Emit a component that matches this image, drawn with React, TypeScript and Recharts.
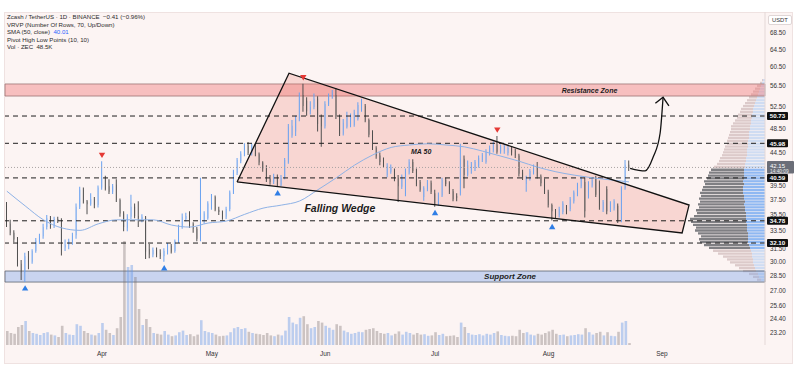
import {
  Area,
  Bar,
  Cell,
  ComposedChart,
  Line,
  ReferenceArea,
  ReferenceDot,
  ReferenceLine,
  Scatter,
  XAxis,
  YAxis,
} from "recharts";

const W = 800;
const H = 381;
const FONT = "'Liberation Sans', Arial, sans-serif";
const PANE = "#fcf4f3";
const UP = "#6aa2f0";
const DOWN = "#4f4f4f";

// day 0 = 1 Mar; first candle = 6 Mar
const FIRST_DAY = 5;
const X_DOMAIN = [4.5, 212.15];
const Y_DOMAIN = [22.23, 73.8];

const opens = [
  36.6, 34.4, 33.3, 32.5, 29.8, 28.9, 30.6, 30.0, 31.2, 32.4, 32.9, 34.0, 35.1, 34.1, 35.0, 34.8, 31.6, 31.9, 32.3, 33.0,
  36.6, 38.9, 37.3, 36.9, 37.6, 36.8, 39.2, 40.6, 39.4, 38.6, 39.6, 37.5, 35.7, 33.9, 35.3, 36.6, 35.4, 35.0, 35.2, 31.4,
  30.8, 31.3, 31.0, 30.6, 31.1, 31.8, 31.2, 32.3, 34.0, 35.0, 35.6, 34.4, 33.8, 32.6, 34.8, 35.1, 36.5, 37.9, 36.2, 35.9,
  35.3, 36.3, 38.5, 41.3, 43.1, 44.2, 45.6, 44.4, 45.6, 44.2, 42.9, 42.2, 40.5, 40.0, 40.8, 39.6, 40.6, 43.0, 47.3, 48.0,
  50.2, 54.7, 53.6, 51.6, 52.4, 54.0, 50.5, 48.9, 53.0, 54.3, 54.7, 50.7, 47.6, 48.8, 49.0, 49.1, 50.2, 51.8, 52.6, 50.0,
  47.9, 45.2, 44.0, 43.3, 41.0, 41.5, 41.6, 40.6, 39.3, 38.3, 41.4, 43.0, 41.8, 40.0, 37.9, 39.0, 39.9, 38.4, 36.9, 38.1,
  40.3, 39.8, 38.7, 38.0, 38.4, 43.5, 41.0, 41.8, 42.0, 42.4, 43.3, 43.0, 44.3, 44.8, 45.8, 44.6, 44.8, 44.4, 45.2, 44.8,
  44.0, 41.4, 39.7, 40.5, 41.4, 42.3, 40.8, 40.0, 38.6, 36.8, 36.0, 35.5, 35.9, 36.6, 36.3, 37.3, 38.3, 39.4, 40.0, 38.0,
  39.5, 40.6, 39.9, 36.2, 39.0, 36.2, 36.4, 36.7, 34.9, 39.1, 42.56,
];
const highs = [
  37.2, 34.9, 33.6, 32.8, 30.2, 31.0, 31.2, 31.4, 32.7, 33.2, 34.4, 35.5, 35.4, 35.3, 35.3, 35.1, 32.5, 32.6, 33.3, 37.0,
  39.3, 39.2, 37.5, 38.4, 37.9, 39.5, 43.1, 40.9, 40.4, 39.7, 40.4, 37.7, 36.0, 35.6, 38.2, 37.0, 37.3, 35.6, 35.4, 32.0,
  31.6, 31.6, 31.4, 31.5, 32.1, 32.0, 32.5, 34.3, 35.7, 35.8, 36.0, 34.6, 34.0, 40.6, 36.0, 37.3, 38.3, 38.1, 36.6, 36.1,
  36.6, 38.8, 41.8, 43.6, 44.7, 46.0, 46.2, 45.9, 45.9, 44.5, 43.1, 42.5, 41.0, 41.2, 41.1, 41.0, 43.6, 49.3, 50.0, 50.8,
  55.2, 57.0, 54.3, 53.5, 55.0, 54.5, 51.0, 53.5, 55.0, 55.7, 56.1, 51.0, 50.2, 51.5, 51.2, 51.9, 53.3, 54.0, 53.0, 50.3,
  48.2, 45.5, 44.5, 43.7, 42.8, 42.6, 42.0, 41.0, 41.1, 42.0, 43.4, 43.4, 42.0, 40.3, 39.4, 40.3, 40.2, 38.9, 38.5, 40.6,
  40.6, 40.1, 39.0, 38.4, 45.9, 44.0, 43.2, 43.0, 43.3, 44.0, 44.4, 45.0, 45.6, 46.3, 47.2, 45.8, 45.9, 45.6, 45.5, 45.1,
  44.3, 41.8, 40.9, 41.9, 42.6, 43.0, 41.1, 40.5, 38.9, 37.0, 36.3, 36.6, 37.3, 36.8, 37.9, 38.8, 39.9, 40.8, 40.7, 40.1,
  40.6, 40.9, 40.2, 37.5, 39.4, 37.3, 37.6, 37.0, 39.4, 43.3, 43.2,
];
const lows = [
  34.0, 33.0, 32.2, 29.5, 28.1, 27.9, 29.2, 29.8, 31.0, 32.0, 32.6, 33.7, 33.8, 33.9, 34.5, 30.7, 31.2, 31.4, 31.9, 32.6,
  36.3, 37.0, 35.6, 36.7, 36.4, 36.5, 38.9, 38.8, 38.3, 38.3, 37.2, 35.3, 33.5, 33.5, 35.0, 35.1, 34.0, 34.6, 30.3, 30.4,
  30.5, 30.5, 30.3, 30.0, 30.8, 30.9, 31.0, 32.1, 33.8, 34.7, 33.9, 33.3, 32.3, 32.3, 34.4, 34.9, 36.2, 36.0, 35.5, 34.9,
  35.0, 36.0, 38.3, 41.0, 42.8, 43.9, 44.1, 44.0, 43.9, 42.5, 41.5, 40.0, 39.6, 39.7, 39.3, 39.4, 40.4, 42.7, 46.9, 47.2,
  49.8, 51.5, 50.8, 51.0, 52.0, 48.0, 45.4, 48.5, 52.6, 54.0, 50.2, 47.2, 47.3, 48.5, 48.7, 48.8, 49.9, 51.5, 49.6, 47.0,
  44.9, 43.5, 42.5, 42.1, 40.7, 41.2, 40.1, 37.2, 39.0, 38.0, 41.1, 41.3, 39.4, 38.6, 37.4, 38.7, 38.3, 36.6, 36.7, 37.9,
  39.4, 38.3, 37.3, 37.3, 38.1, 39.1, 40.8, 41.2, 41.6, 42.1, 43.0, 42.7, 44.0, 44.5, 44.3, 44.3, 44.3, 44.0, 44.0, 43.6,
  40.8, 40.3, 38.6, 40.2, 41.1, 40.5, 39.4, 38.3, 36.5, 34.8, 35.0, 35.2, 35.6, 35.6, 36.0, 37.0, 38.0, 39.1, 35.2, 37.7,
  39.2, 37.9, 36.2, 35.9, 35.6, 35.9, 36.1, 34.5, 34.6, 38.9, 41.6,
];
const closes = [
  34.4, 33.3, 32.5, 29.8, 28.9, 30.6, 30.0, 31.2, 32.4, 32.9, 34.0, 35.1, 34.1, 35.0, 34.8, 31.6, 31.9, 32.3, 33.0, 36.6,
  38.9, 37.3, 36.9, 37.6, 36.8, 39.2, 40.6, 39.0, 38.6, 39.4, 37.5, 35.7, 34.0, 35.3, 36.6, 35.4, 35.1, 35.3, 31.1, 30.8,
  31.3, 30.8, 30.6, 31.2, 31.8, 31.1, 32.3, 34.0, 35.3, 35.4, 34.2, 33.8, 32.6, 35.1, 35.7, 37.0, 37.9, 36.2, 35.9, 35.2,
  36.3, 38.5, 41.5, 43.3, 44.3, 45.6, 44.4, 45.6, 44.2, 42.9, 42.0, 40.3, 40.0, 40.8, 39.6, 40.6, 43.3, 48.8, 49.0, 50.2,
  54.7, 52.6, 51.6, 52.4, 54.0, 49.3, 48.9, 53.0, 54.5, 55.2, 50.7, 47.6, 49.5, 50.7, 50.5, 51.4, 52.8, 53.4, 49.9, 47.4,
  45.2, 43.9, 43.0, 42.5, 42.4, 42.2, 40.4, 39.4, 40.8, 41.6, 43.0, 41.6, 39.7, 38.9, 39.1, 39.9, 38.6, 36.8, 38.2, 40.3,
  39.7, 38.6, 37.6, 37.8, 43.5, 41.0, 42.5, 42.6, 43.0, 43.6, 44.1, 44.6, 45.2, 45.9, 44.6, 45.4, 45.5, 45.2, 44.5, 44.0,
  41.2, 40.6, 40.6, 41.6, 42.3, 40.8, 39.8, 38.6, 36.8, 36.0, 35.5, 36.3, 37.0, 36.1, 37.6, 38.5, 39.6, 40.5, 36.0, 39.8,
  40.3, 38.2, 36.6, 37.2, 36.0, 37.0, 37.3, 34.7, 39.1, 42.56, 42.15,
];
// volume in thousands ZEC
const volumes = [
  350, 300, 280, 450, 500, 600, 350, 300, 280, 250, 300, 320, 260, 240, 200, 480, 300, 260, 250, 520,
  480, 350, 300, 260, 240, 300, 550, 380, 300, 250, 420, 700, 2600, 1950, 2000, 1700, 900, 500, 650, 450,
  300, 280, 260, 350, 260, 220, 240, 320, 360, 250, 270, 220, 260, 620, 350, 320, 300, 260, 220, 230,
  240, 320, 420, 450, 400, 420, 330, 300, 280, 270, 250, 300, 240, 220, 260, 240, 360, 700, 560, 520,
  680, 720, 520, 420, 450, 600, 560, 480, 430, 380, 520, 480, 360, 320, 280, 300, 330, 320, 380, 400,
  420, 350, 300, 280, 300, 240, 280, 340, 260, 330, 300, 260, 300, 260, 270, 230, 240, 320, 250, 280,
  220, 230, 240, 200, 560, 450, 300, 260, 250, 270, 240, 280, 260, 300, 340, 250, 230, 220, 230, 220,
  380, 300, 320, 260, 240, 280, 260, 300, 340, 380, 280, 250, 260, 220, 240, 250, 270, 260, 420, 320,
  260, 300, 330, 240, 320, 230, 220, 330, 560, 600, 48.5,
];
const VOL_MAX = 8325;

const monthTicks = [31, 61, 92, 122, 153, 184];
const monthNames = ["Apr", "May", "Jun", "Jul", "Aug", "Sep"];
const priceTicks = [23.2, 24.4, 25.6, 27, 28.5, 30, 31.5, 33.5, 35.5, 37.5, 39.5, 44.5, 48.5, 52.5, 56.5, 60.5, 64.5, 68.5];

const keyLevels = [50.73, 45.98, 40.59, 34.78, 32.1];
const lastPrice = 42.15;
const countdown = "14:40:09";
const resistanceZone = [54.52, 56.94];
const supportZone = [27.89, 29.02];

// SMA 50
const maDays = [5, 10, 15, 20, 25, 30, 35, 40, 45, 50, 55, 60, 65, 70, 75, 80, 85, 90, 95, 100, 105, 110, 115, 120, 125, 130, 135, 140, 145, 150, 155, 160, 165, 170, 175];
const maValues = [38.7, 36.7, 34.9, 33.9, 33.6, 34.4, 34.9, 34.9, 34.9, 34.25, 34.0, 34.5, 34.75, 35.6, 36.4, 36.8, 37.35, 38.9, 40.6, 42.5, 44.1, 45.3, 45.7, 45.9, 45.7, 45.4, 44.7, 43.9, 43.1, 42.2, 41.5, 41.0, 40.6, 40.3, 40.01];

const pivotLowDays = [10, 48, 79, 122, 154];
const pivotHighDays = [31, 86, 139];

// falling wedge corners (day, price)
const wedgeDays = [67.9, 82.1, 191.4, 189.5, 67.9];
const wedgePrices = [40.0, 59.2, 36.81, 33.28, 40.0];
// wedge fill: lower / upper edge at each corner
const wedgeFillDays = [67.9, 82.1, 189.5, 191.4];
const wedgeFillLow = [40.0, 39.15, 33.28, 36.81];
const wedgeFillHigh = [40.0, 59.2, 37.12, 36.81];

const arrowDays = [175.3, 179.4, 181.6, 183.5, 184.3];
const arrowPrices = [42.02, 41.62, 43.76, 47.72, 54.27];
const arrowHeadDays = [182.2, 184.3, 185.9];
const arrowHeadPrices = [53.1, 54.27, 52.64];

// visible range volume profile, 70 rows
const profilePrices = [
  28.1, 28.39, 28.69, 28.99, 29.3, 29.6, 29.91, 30.23, 30.54, 30.86, 31.19, 31.51, 31.84, 32.18, 32.51, 32.85, 33.2, 33.55,
  33.9, 34.25, 34.61, 34.98, 35.34, 35.71, 36.09, 36.47, 36.85, 37.24, 37.63, 38.02, 38.42, 38.82, 39.23, 39.64, 40.06,
  40.48, 40.9, 41.33, 41.76, 42.2, 42.64, 43.09, 43.54, 44.0, 44.46, 44.92, 45.4, 45.87, 46.35, 46.84, 47.33, 47.83, 48.33,
  48.84, 49.35, 49.87, 50.39, 50.92, 51.45, 51.99, 52.54, 53.09, 53.64, 54.21, 54.77, 55.35, 55.93, 56.51, 57.11, 57.7,
];
const profileUp = [
  4, 6, 7, 9, 10, 11, 12, 12, 13, 13, 14, 15, 16, 17, 17, 17, 17, 18, 18, 18, 19, 19, 19, 19, 20, 20, 21, 20, 21, 21, 22, 22,
  22, 21, 22, 21, 21, 21, 21, 20, 20, 19, 19, 18, 18, 18, 17, 17, 17, 16, 16, 16, 15, 15, 14, 14, 13, 13, 12, 12, 11, 10, 9,
  8, 7, 6, 5, 4, 3, 2,
];
const profileDown = [
  4, 6, 9, 13, 16, 19, 23, 26, 29, 34, 38, 41, 45, 48, 49, 47, 50, 52, 51, 54, 55, 56, 52, 49, 49, 46, 46, 45, 45, 43, 43,
  41, 40, 39, 39, 37, 36, 35, 33, 31, 28, 27, 26, 25, 24, 23, 23, 21, 21, 21, 20, 19, 19, 19, 18, 16, 15, 14, 13, 12, 11, 10,
  9, 8, 7, 6, 5, 4, 2, 1,
];
const valueArea = [31.3, 42.0];

const candles = opens.map((o, i) => {
  const c = closes[i];
  return {
    d: FIRST_DAY + i,
    wick: [lows[i], highs[i]],
    body: [Math.min(o, c), Math.max(o, c)],
    vol: volumes[i],
    up: c >= o,
  };
});
const maData = maDays.map((d, i) => ({ d, p: maValues[i] }));
const pivotLows = pivotLowDays.map((d) => ({ d, p: lows[d - FIRST_DAY] }));
const pivotHighs = pivotHighDays.map((d) => ({ d, p: highs[d - FIRST_DAY] }));
const wedgeLine = wedgeDays.map((d, i) => ({ d, p: wedgePrices[i] }));
const wedgeFill = wedgeFillDays.map((d, i) => ({ d, r: [wedgeFillLow[i], wedgeFillHigh[i]] }));
const arrowLine = arrowDays.map((d, i) => ({ d, p: arrowPrices[i] }));
const arrowHead = arrowHeadDays.map((d, i) => ({ d, p: arrowHeadPrices[i] }));
const profile = profilePrices.map((p, i) => ({ p, up: profileUp[i], down: profileDown[i], va: p >= valueArea[0] && p <= valueArea[1] }));

const TriUp = (props: any) => {
  const { cx, cy } = props;
  const y = cy + 6;
  return <path d={`M${cx} ${y - 2.8}L${cx + 3.2} ${y + 2.6}L${cx - 3.2} ${y + 2.6}Z`} fill="#2f7ee6" />;
};
const TriDown = (props: any) => {
  const { cx, cy } = props;
  const y = cy - 6;
  return <path d={`M${cx} ${y + 2.8}L${cx + 3.2} ${y - 2.6}L${cx - 3.2} ${y - 2.6}Z`} fill="#e53935" />;
};

const levelTag = (text: string) => (props: any) => {
  const { viewBox } = props;
  const x = viewBox.x + viewBox.width + 2;
  const y = viewBox.y;
  return (
    <g>
      <rect x={x} y={y - 4} width={21} height={8} fill="#111" rx={1} />
      <text x={x + 10.5} y={y + 2.2} textAnchor="middle" fontSize={6.2} fontWeight={700} fill="#fff" fontFamily={FONT}>
        {text}
      </text>
    </g>
  );
};
const priceTag = (props: any) => {
  const { viewBox } = props;
  const x = viewBox.x + viewBox.width + 2;
  const y = viewBox.y;
  return (
    <g>
      <rect x={x} y={y - 6.5} width={27} height={12.5} fill="#6b6e78" rx={1} />
      <text x={x + 3} y={y + 0.2} fontSize={6} fill="#fff" fontFamily={FONT}>
        {lastPrice.toFixed(2)}
      </text>
      <text x={x + 3} y={y + 5.2} fontSize={4.8} fill="#e8e8e8" fontFamily={FONT}>
        {countdown}
      </text>
    </g>
  );
};
const note = (text: string, size: number) => (props: any) => (
  <text
    x={props.cx}
    y={props.cy}
    textAnchor="middle"
    dominantBaseline="central"
    fontSize={size}
    fontWeight={700}
    fontStyle="italic"
    fill="#1c1c1c"
    fontFamily={FONT}
  >
    {text}
  </text>
);

function VolumeProfile() {
  return (
    <ComposedChart layout="vertical" width={W} height={H} data={profile} margin={{ top: 12, right: 35, bottom: 36, left: 5 }}>
      <XAxis type="number" domain={[0, 760]} reversed hide allowDataOverflow />
      <YAxis type="number" dataKey="p" scale="log" domain={Y_DOMAIN} reversed hide allowDataOverflow />
      <Bar dataKey="up" stackId="v" barSize={2.3} isAnimationActive={false}>
        {profile.map((r) => (
          <Cell key={r.p} fill={r.va ? "#8fb8f2" : "#cfdcf2"} />
        ))}
      </Bar>
      <Bar dataKey="down" stackId="v" barSize={2.3} isAnimationActive={false}>
        {profile.map((r) => (
          <Cell key={r.p} fill={r.va ? "#7f7f83" : "#dccaca"} />
        ))}
      </Bar>
    </ComposedChart>
  );
}

function PriceChart() {
  return (
    <ComposedChart width={W} height={H} data={candles} margin={{ top: 12, right: 0, bottom: 16, left: 5 }}>
      <XAxis
        xAxisId="main"
        dataKey="d"
        type="number"
        domain={X_DOMAIN}
        allowDataOverflow
        ticks={monthTicks}
        tickFormatter={(v) => monthNames[monthTicks.indexOf(v)] ?? ""}
        tick={{ fill: "#333", fontSize: 6.5, fontFamily: FONT }}
        axisLine={false}
        tickLine={false}
        tickSize={4}
        height={20}
      />
      <XAxis xAxisId="wick" dataKey="d" type="number" domain={X_DOMAIN} allowDataOverflow hide />
      <XAxis xAxisId="vol" dataKey="d" type="number" domain={X_DOMAIN} allowDataOverflow hide />
      <YAxis
        yAxisId="price"
        orientation="right"
        type="number"
        scale="log"
        domain={Y_DOMAIN}
        allowDataOverflow
        ticks={priceTicks}
        tickFormatter={(v) => Number(v).toFixed(2)}
        tick={{ fill: "#333", fontSize: 6.3, fontFamily: FONT }}
        axisLine={{ stroke: "#e4d8d7" }}
        tickLine={false}
        tickSize={3}
        tickMargin={2}
        width={35}
      />
      <YAxis yAxisId="vol" type="number" domain={[0, VOL_MAX]} allowDataOverflow hide />

      <Bar xAxisId="vol" yAxisId="vol" dataKey="vol" barSize={2.6} isAnimationActive={false}>
        {candles.map((c) => (
          <Cell key={c.d} fill={c.up ? "rgba(100,150,230,0.42)" : "rgba(120,108,108,0.36)"} />
        ))}
      </Bar>

      <ReferenceArea xAxisId="main" yAxisId="price" y1={resistanceZone[0]} y2={resistanceZone[1]} fill="#f07070" fillOpacity={0.4} stroke="#9c7474" strokeWidth={0.8} />
      <ReferenceArea xAxisId="main" yAxisId="price" y1={supportZone[0]} y2={supportZone[1]} fill="#7ea4e8" fillOpacity={0.4} stroke="#5d6470" strokeWidth={0.8} />

      <Area
        xAxisId="main"
        yAxisId="price"
        data={wedgeFill}
        dataKey="r"
        type="linear"
        fill="#ee6c5e"
        fillOpacity={0.22}
        stroke="none"
        isAnimationActive={false}
      />

      <ReferenceLine xAxisId="main" yAxisId="price" y={lastPrice} stroke="#a9a3a3" strokeDasharray="1 2" label={priceTag} />
      {keyLevels.map((lv) => (
        <ReferenceLine key={lv} xAxisId="main" yAxisId="price" y={lv} stroke="#1e1e1e" strokeDasharray="5 4" label={levelTag(lv.toFixed(2))} />
      ))}

      <Line xAxisId="main" yAxisId="price" data={maData} dataKey="p" type="monotone" stroke="#8eb2e6" strokeWidth={1} dot={false} isAnimationActive={false} />

      <Bar xAxisId="wick" yAxisId="price" dataKey="wick" barSize={1} isAnimationActive={false}>
        {candles.map((c) => (
          <Cell key={c.d} fill={c.up ? UP : DOWN} />
        ))}
      </Bar>
      <Bar xAxisId="main" yAxisId="price" dataKey="body" barSize={2.7} isAnimationActive={false}>
        {candles.map((c) => (
          <Cell key={c.d} fill={c.up ? UP : DOWN} />
        ))}
      </Bar>

      <Line xAxisId="main" yAxisId="price" data={wedgeLine} dataKey="p" type="linear" stroke="#111" strokeWidth={1.3} dot={false} isAnimationActive={false} />
      <Line xAxisId="main" yAxisId="price" data={arrowLine} dataKey="p" type="monotone" stroke="#111" strokeWidth={1.3} dot={false} isAnimationActive={false} />
      <Line xAxisId="main" yAxisId="price" data={arrowHead} dataKey="p" type="linear" stroke="#111" strokeWidth={1.3} dot={false} isAnimationActive={false} />

      <Scatter xAxisId="main" yAxisId="price" data={pivotLows} dataKey="p" shape={TriUp} isAnimationActive={false} />
      <Scatter xAxisId="main" yAxisId="price" data={pivotHighs} dataKey="p" shape={TriDown} isAnimationActive={false} />

      <ReferenceDot xAxisId="main" yAxisId="price" x={164.2} y={55.7} r={0} shape={note("Resistance Zone", 7)} />
      <ReferenceDot xAxisId="main" yAxisId="price" x={142.5} y={28.44} r={0} shape={note("Support Zone", 8)} />
      <ReferenceDot xAxisId="main" yAxisId="price" x={96} y={36.42} r={0} shape={note("Falling Wedge", 10.5)} />
      <ReferenceDot xAxisId="main" yAxisId="price" x={118.2} y={44.72} r={0} shape={note("MA 50", 7)} />
    </ComposedChart>
  );
}

export default function App() {
  const legend = { position: "absolute" as const, left: 7, top: 13, fontSize: 6.1, lineHeight: "7.5px", color: "#2b2b2b", whiteSpace: "nowrap" as const };
  return (
    <div style={{ position: "fixed", left: 0, top: 0, width: W, height: H, background: "#fff", fontFamily: FONT, overflow: "hidden" }}>
      <div style={{ position: "absolute", left: 4, top: 12, width: 789, height: 352, background: PANE, border: "1px solid #efe2e1", boxSizing: "border-box" }} />
      <div style={{ position: "absolute", left: 0, top: 0 }}>
        <VolumeProfile />
      </div>
      <div style={{ position: "absolute", left: 0, top: 0 }}>
        <PriceChart />
      </div>
      <div style={legend}>
        <div>Zcash / TetherUS · 1D · BINANCE&nbsp;&nbsp;−0.41 (−0.96%)</div>
        <div>VRVP (Number Of Rows, 70, Up/Down)</div>
        <div>
          SMA (50, close)&nbsp;&nbsp;<span style={{ color: "#2962ff" }}>40.01</span>
        </div>
        <div>Pivot High Low Points (10, 10)</div>
        <div>Vol · ZEC&nbsp;&nbsp;48.5K</div>
      </div>
      <div
        style={{
          position: "absolute",
          left: 768,
          top: 15,
          padding: "0 3px",
          fontSize: 5.8,
          lineHeight: "8px",
          color: "#333",
          background: "#fff",
          border: "1px solid #e0d6d6",
          borderRadius: 2,
        }}
      >
        USDT
      </div>
    </div>
  );
}
